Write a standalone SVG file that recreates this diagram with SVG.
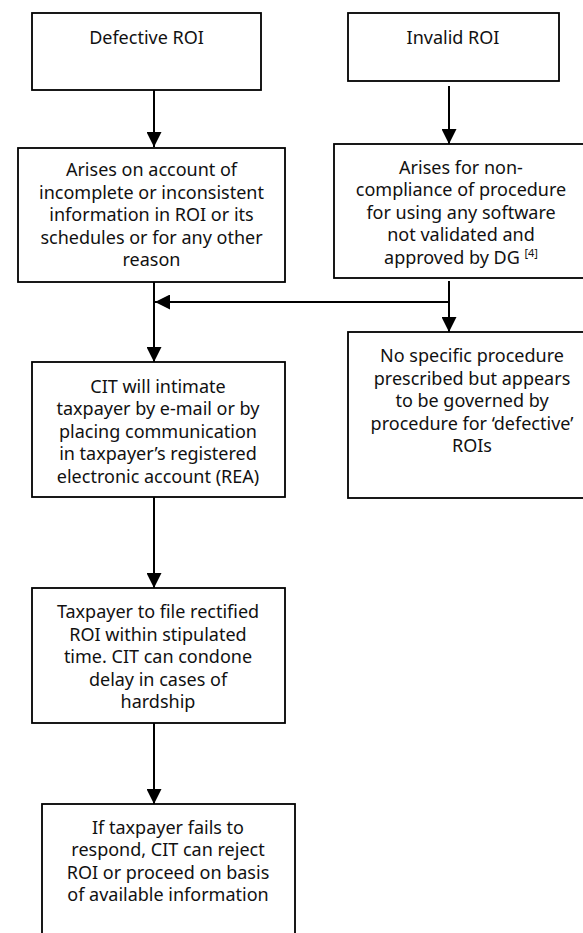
<svg xmlns="http://www.w3.org/2000/svg" width="583" height="933" viewBox="0 0 583 933">
<style>
.box{fill:#fff;stroke:#000;stroke-width:1.8}
.t{font-family:"Noto Sans","Open Sans","Liberation Sans",sans-serif;font-size:18px;fill:#111;text-anchor:middle}
.sup{font-size:11px}
.c{fill:none;stroke:#000;stroke-width:2}
</style>
<defs>
<marker id="ah" markerUnits="userSpaceOnUse" markerWidth="15" markerHeight="15" viewBox="0 0 15 15" refX="15" refY="7.5" orient="auto">
<path d="M0,0 L15,7.5 L0,15 z" fill="#000"/>
</marker>
</defs>
<rect width="583" height="933" fill="#fff"/>
<g id="n1"><rect class="box" x="32" y="13" width="229" height="77"/>
<text class="t" x="146.5" y="44">Defective ROI</text></g>
<g id="n2"><rect class="box" x="348" y="13" width="211" height="68"/>
<text class="t" x="453" y="44">Invalid ROI</text></g>
<g id="n3"><rect class="box" x="18" y="148" width="267" height="134"/>
<text class="t" x="151.5" y="176">Arises on account of</text>
<text class="t" x="151.5" y="198.5">incomplete or inconsistent</text>
<text class="t" x="151.5" y="221">information in ROI or its</text>
<text class="t" x="151.5" y="243.5">schedules or for any other</text>
<text class="t" x="151.5" y="266">reason</text></g>
<g id="n4"><rect class="box" x="334" y="144" width="256" height="134"/>
<text class="t" x="461" y="173.5">Arises for non-</text>
<text class="t" x="461" y="196">compliance of procedure</text>
<text class="t" x="461" y="218.5">for using any software</text>
<text class="t" x="461" y="241">not validated and</text>
<text class="t" x="461" y="263.5">approved by DG <tspan class="sup" dy="-7">[4]</tspan></text></g>
<g id="n5"><rect class="box" x="32" y="362" width="253" height="135"/>
<text class="t" x="158" y="392.5">CIT will intimate</text>
<text class="t" x="158" y="415">taxpayer by e-mail or by</text>
<text class="t" x="158" y="437.5">placing communication</text>
<text class="t" x="158" y="460">in taxpayer’s registered</text>
<text class="t" x="158" y="482.5">electronic account (REA)</text></g>
<g id="n6"><rect class="box" x="348" y="332" width="250" height="166"/>
<text class="t" x="472" y="362">No specific procedure</text>
<text class="t" x="472" y="384.5">prescribed but appears</text>
<text class="t" x="472" y="407">to be governed by</text>
<text class="t" x="472" y="429.5">procedure for ‘defective’</text>
<text class="t" x="472" y="452">ROIs</text></g>
<g id="n7"><rect class="box" x="32" y="588" width="253" height="135"/>
<text class="t" x="158" y="618">Taxpayer to file rectified</text>
<text class="t" x="158" y="640.5">ROI within stipulated</text>
<text class="t" x="158" y="663">time. CIT can condone</text>
<text class="t" x="158" y="685.5">delay in cases of</text>
<text class="t" x="158" y="708">hardship</text></g>
<g id="n8"><rect class="box" x="42" y="804" width="253" height="150"/>
<text class="t" x="168" y="833.5">If taxpayer fails to</text>
<text class="t" x="168" y="856">respond, CIT can reject</text>
<text class="t" x="168" y="878.5">ROI or proceed on basis</text>
<text class="t" x="168" y="901">of available information</text></g>
<g id="connectors">
<line class="c" x1="154" y1="90" x2="154" y2="147" marker-end="url(#ah)"/>
<line class="c" x1="449" y1="86" x2="449" y2="144" marker-end="url(#ah)"/>
<line class="c" x1="154" y1="282" x2="154" y2="362" marker-end="url(#ah)"/>
<polyline class="c" points="449,281 449,302 155,302" marker-end="url(#ah)"/>
<line class="c" x1="449" y1="302" x2="449" y2="332" marker-end="url(#ah)"/>
<line class="c" x1="154" y1="497" x2="154" y2="588" marker-end="url(#ah)"/>
<line class="c" x1="154" y1="723" x2="154" y2="804" marker-end="url(#ah)"/>
</g>
</svg>
